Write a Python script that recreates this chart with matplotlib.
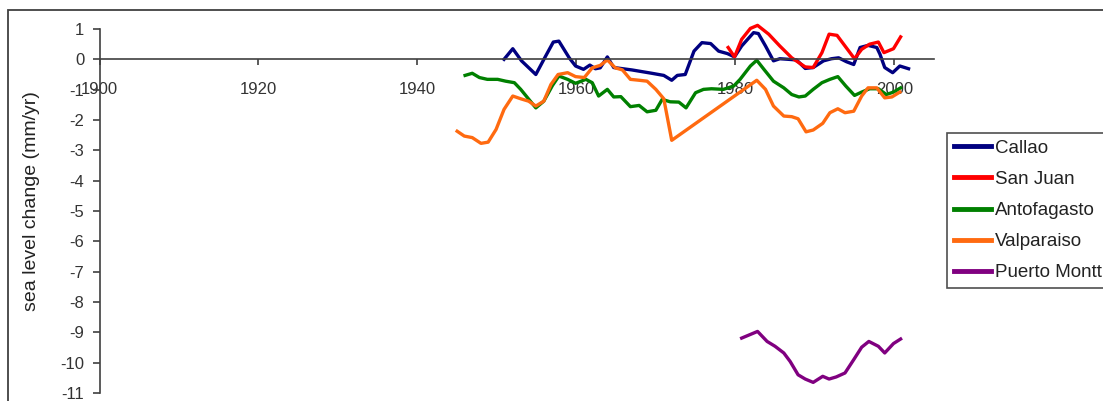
import matplotlib
matplotlib.use("Agg")
import matplotlib.pyplot as plt
from matplotlib.patches import Rectangle

plt.rcParams['font.family'] = ['Liberation Sans', 'DejaVu Sans']
plt.rcParams['axes.unicode_minus'] = False

callao_years = [1950.9, 1952.0, 1953.1, 1954.9, 1956.1, 1957.1, 1957.8, 1959.1, 1959.9, 1960.9,
                1961.7, 1962.4, 1963.0, 1963.9, 1964.7, 1967.0, 1969.5, 1971.0, 1972.0, 1972.7,
                1973.7, 1974.8, 1975.8, 1976.9, 1977.9, 1979.0, 1979.9, 1980.8, 1982.3, 1982.9,
                1983.8, 1984.8, 1985.6, 1986.7, 1987.7, 1988.8, 1989.8, 1991.1, 1992.1, 1993.0,
                1994.0, 1994.9, 1995.7, 1996.7, 1997.8, 1998.2, 1998.8, 1999.8, 2000.7, 2001.8]
callao_vals = [0.0, 0.35, -0.05, -0.5, 0.09, 0.57, 0.6, 0.05, -0.22, -0.33,
               -0.19, -0.31, -0.28, 0.08, -0.27, -0.35, -0.46, -0.53, -0.69, -0.53,
               -0.5, 0.27, 0.55, 0.52, 0.27, 0.19, 0.08, 0.44, 0.88, 0.85,
               0.44, -0.05, 0.02, 0.0, -0.02, -0.3, -0.27, -0.05, 0.02, 0.05,
               -0.08, -0.17, 0.39, 0.46, 0.39, 0.17, -0.27, -0.44, -0.22, -0.31]

sanjuan_years = [1979.1, 1979.9, 1980.8, 1981.9, 1982.8, 1984.2, 1985.6, 1987.1, 1988.8, 1989.8,
                 1990.9, 1991.8, 1992.8, 1993.8, 1995.0, 1995.9, 1996.9, 1998.0, 1998.7, 1999.9,
                 2000.8]
sanjuan_vals = [0.39, 0.08, 0.66, 1.02, 1.12, 0.83, 0.44, 0.05, -0.25, -0.27,
                0.22, 0.83, 0.79, 0.44, 0.02, 0.33, 0.5, 0.57, 0.22, 0.35,
                0.74]

antof_years = [1946.0, 1946.9, 1947.8, 1948.8, 1950.1, 1951.1, 1952.2, 1953.0, 1954.9, 1955.9,
               1957.0, 1957.8, 1958.9, 1959.9, 1961.2, 1962.0, 1962.8, 1963.9, 1964.7, 1965.6,
               1966.8, 1967.9, 1968.9, 1970.0, 1970.8, 1971.8, 1972.9, 1973.8, 1975.0, 1976.0,
               1977.0, 1978.5, 1979.8, 1980.6, 1981.9, 1982.7, 1983.6, 1984.8, 1986.1, 1987.1,
               1988.0, 1988.8, 1989.8, 1990.9, 1991.9, 1992.9, 1993.9, 1995.0, 1995.9, 1996.9,
               1998.0, 1999.0, 1999.9, 2000.8]
antof_vals = [-0.53, -0.46, -0.6, -0.66, -0.66, -0.72, -0.77, -0.99, -1.6, -1.38,
              -0.86, -0.55, -0.66, -0.79, -0.66, -0.77, -1.21, -0.99, -1.24, -1.23,
              -1.56, -1.52, -1.73, -1.68, -1.32, -1.4, -1.41, -1.6, -1.1, -0.99,
              -0.97, -0.99, -0.88, -0.66, -0.22, -0.03, -0.33, -0.72, -0.94, -1.16,
              -1.24, -1.21, -0.99, -0.77, -0.66, -0.57, -0.88, -1.19, -1.08, -0.97,
              -0.97, -1.16, -1.08, -0.94]

valpo_years = [1945.0, 1945.9, 1946.9, 1948.0, 1948.9, 1949.9, 1950.9, 1952.0, 1953.0, 1954.0,
               1954.9, 1955.9, 1956.8, 1957.7, 1958.9, 1959.9, 1961.0, 1962.0, 1963.0, 1963.9,
               1964.9, 1965.8, 1966.8, 1967.9, 1968.9, 1970.0, 1971.0, 1972.0, 1982.7, 1983.8,
               1984.8, 1986.1, 1987.1, 1987.9, 1988.9, 1989.8, 1991.0, 1991.9, 1992.9, 1993.8,
               1994.9, 1995.9, 1996.7, 1997.8, 1998.8, 1999.7, 2000.7]
valpo_vals = [-2.37, -2.53, -2.58, -2.77, -2.73, -2.31, -1.65, -1.21, -1.30, -1.38,
              -1.54, -1.38, -0.83, -0.5, -0.44, -0.57, -0.6, -0.28, -0.2, -0.02,
              -0.28, -0.35, -0.66, -0.69, -0.72, -0.99, -1.30, -2.67, -0.69, -0.99,
              -1.54, -1.87, -1.89, -1.96, -2.39, -2.33, -2.11, -1.76, -1.63, -1.76,
              -1.71, -1.21, -0.94, -0.94, -1.27, -1.24, -1.08]

pmontt_years = [1980.8, 1982.8, 1984.0, 1985.0, 1986.1, 1986.9, 1987.9, 1988.8, 1989.8, 1991.0,
                1991.8, 1992.7, 1993.8, 1994.9, 1995.9, 1996.8, 1998.0, 1998.8, 1999.9, 2000.8]
pmontt_vals = [-9.19, -8.97, -9.30, -9.46, -9.68, -9.96, -10.40, -10.54, -10.65, -10.45,
               -10.54, -10.47, -10.34, -9.90, -9.49, -9.30, -9.46, -9.68, -9.37, -9.22]

series_names = ["Callao", "San Juan", "Antofagasto", "Valparaiso", "Puerto Montt"]
series_colors = ["#000080", "#FF0000", "#008000", "#FF6A10", "#800080"]

W, H = 1103, 401
fig = plt.figure(figsize=(W / 100, H / 100), dpi=100)

# outer frame (partially cut off)
fig.patches.append(Rectangle((7.5 / W, -0.1), 1.2, (1 - 10 / H) + 0.1,
                             transform=fig.transFigure, fill=False,
                             edgecolor="#404040", lw=1.3))

left, right, top, bottom = 99.5, 934, 29, 393
ax = fig.add_axes([left / W, 1 - bottom / H, (right - left) / W, (bottom - top) / H])

data = [(callao_years, callao_vals), (sanjuan_years, sanjuan_vals),
        (antof_years, antof_vals), (valpo_years, valpo_vals),
        (pmontt_years, pmontt_vals)]
for (xs, ys), name, c in zip(data, series_names, series_colors):
    ax.plot(xs, ys, color=c, lw=2.4, label=name, solid_joinstyle='round',
            clip_on=False)

ax.set_xlim(1900, 2005)
ax.set_ylim(-11, 1)
ax.set_xticks([1900, 1920, 1940, 1960, 1980, 2000])
ax.set_yticks(range(-11, 2))
ax.spines['top'].set_visible(False)
ax.spines['right'].set_visible(False)
ax.spines['bottom'].set_position(('data', 0))
for s in ('left', 'bottom'):
    ax.spines[s].set_color("#404040")
    ax.spines[s].set_linewidth(1.2)
ax.tick_params(axis='x', direction='out', length=4, width=1.2, color="#404040",
               labelsize=12, labelcolor="#333333", pad=12)
ax.tick_params(axis='y', direction='out', length=5, width=1.2, color="#404040",
               labelsize=12, labelcolor="#333333", pad=6)
ax.set_ylabel("sea level change (mm/yr)", fontsize=14, color="#222222")
ax.yaxis.set_label_coords(-0.071, 0.526)
ax.patch.set_visible(False)

leg = fig.legend(loc='upper left', bbox_to_anchor=(947 / W, 1 - 133 / H),
                 frameon=True, fancybox=False, shadow=False, fontsize=13.5,
                 handlelength=2.0, handletextpad=0.22, labelspacing=0.75,
                 borderpad=0.35, borderaxespad=0)
leg.get_frame().set_edgecolor("#222222")
leg.get_frame().set_linewidth(1.2)
for line in leg.get_lines():
    line.set_linewidth(3.5)
for t in leg.get_texts():
    t.set_color("#222222")

fig.savefig("out.png", dpi=100)
